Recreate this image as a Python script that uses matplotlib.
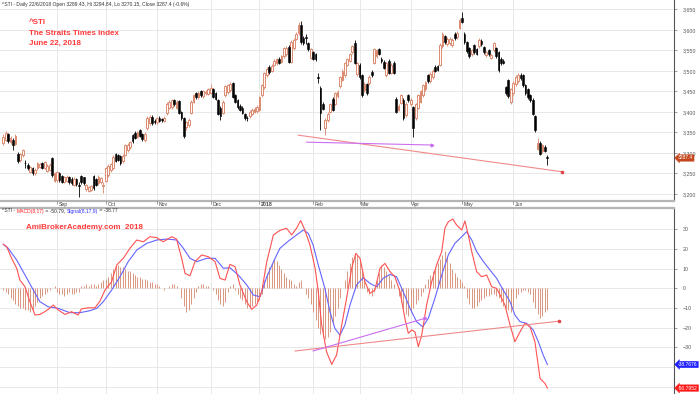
import numpy as np
import matplotlib
matplotlib.use('Agg')
import matplotlib.pyplot as plt
from matplotlib.lines import Line2D
from matplotlib.ticker import FuncFormatter

plt.rcParams['font.family'] = ['Liberation Sans', 'DejaVu Sans']

# ---- data, bar 0 = 1 Aug 2017, last bar = 22 Jun 2018 ----
opens = [3324, 3331, 3345, 3326, 3332, 3322, 3298, 3282, 3294, 3276, 3270, 3254, 3262, 3250, 3262, 3266,
         3276, 3264, 3256, 3258, 3287, 3232, 3234, 3250, 3244, 3229, 3232, 3240, 3237, 3222, 3236, 3222,
         3244, 3240, 3212, 3207, 3210, 3244, 3236, 3226, 3228, 3220, 3232, 3245, 3258, 3263, 3296, 3294,
         3292, 3280, 3295, 3306, 3313, 3343, 3348, 3339, 3355, 3346, 3331, 3360, 3372, 3388, 3378, 3375,
         3386, 3382, 3378, 3396, 3410, 3412, 3428, 3410, 3426, 3400, 3385, 3362, 3368, 3398, 3425, 3446,
         3435, 3451, 3438, 3446, 3444, 3447, 3455, 3445, 3428, 3410, 3398, 3440, 3448, 3452, 3470, 3440,
         3428, 3415, 3410, 3395, 3386, 3390, 3395, 3400, 3402, 3405, 3440, 3460, 3490, 3510, 3500, 3515,
         3518, 3530, 3522, 3535, 3540, 3558, 3522, 3555, 3578, 3592, 3612, 3580, 3582, 3568, 3532, 3545,
         3540, 3485, 3458, 3420, 3360, 3380, 3400, 3432, 3420, 3438, 3462, 3478, 3490, 3515, 3525, 3545,
         3568, 3492, 3515, 3490, 3452, 3468, 3470, 3498, 3520, 3535, 3552, 3530, 3522, 3490, 3525, 3495,
         3520, 3432, 3405, 3422, 3430, 3392, 3440, 3418, 3412, 3385, 3410, 3425, 3440, 3455, 3490, 3475,
         3485, 3510, 3512, 3515, 3560, 3585, 3565, 3568, 3562, 3590, 3582, 3605, 3630, 3590, 3570, 3555,
         3540, 3562, 3552, 3560, 3573, 3558, 3538, 3550, 3532, 3550, 3555, 3545, 3530, 3525, 3460, 3478,
         3425, 3445, 3468, 3475, 3490, 3490, 3465, 3455, 3440, 3430, 3390, 3310, 3325, 3305, 3315, 3289.43]
highs = [3345, 3352, 3348, 3340, 3336, 3346, 3302, 3300, 3310, 3282, 3274, 3268, 3265, 3262, 3278, 3276,
         3278, 3280, 3272, 3274, 3290, 3254, 3256, 3254, 3246, 3243, 3246, 3243, 3240, 3240, 3238, 3230,
         3247, 3242, 3225, 3219, 3222, 3247, 3239, 3245, 3242, 3230, 3265, 3272, 3276, 3294, 3300, 3298,
         3295, 3296, 3321, 3324, 3330, 3347, 3352, 3354, 3358, 3349, 3350, 3389, 3392, 3391, 3382, 3388,
         3389, 3386, 3389, 3424, 3429, 3432, 3431, 3429, 3429, 3403, 3388, 3378, 3384, 3428, 3444, 3449,
         3450, 3454, 3454, 3453, 3459, 3468, 3458, 3448, 3431, 3413, 3428, 3466, 3469, 3472, 3473, 3443,
         3431, 3418, 3413, 3398, 3390, 3404, 3409, 3412, 3416, 3438, 3468, 3498, 3509, 3514, 3516, 3529,
         3532, 3534, 3539, 3559, 3560, 3562, 3574, 3579, 3594, 3618, 3621, 3584, 3590, 3571, 3556, 3549,
         3543, 3495, 3462, 3424, 3384, 3399, 3422, 3435, 3448, 3452, 3488, 3504, 3522, 3532, 3544, 3564,
         3576, 3522, 3518, 3493, 3472, 3471, 3489, 3502, 3556, 3554, 3556, 3534, 3526, 3522, 3528, 3519,
         3523, 3436, 3419, 3444, 3433, 3424, 3443, 3434, 3415, 3422, 3444, 3454, 3469, 3476, 3493, 3497,
         3504, 3513, 3515, 3567, 3594, 3588, 3582, 3582, 3579, 3594, 3596, 3629, 3643, 3594, 3573, 3558,
         3554, 3565, 3556, 3579, 3577, 3561, 3549, 3553, 3542, 3571, 3558, 3548, 3533, 3528, 3464, 3481,
         3459, 3474, 3489, 3494, 3494, 3493, 3468, 3458, 3443, 3433, 3393, 3335, 3328, 3322, 3318, 3294.84]
lows = [3318, 3328, 3324, 3322, 3308, 3318, 3275, 3278, 3290, 3262, 3258, 3250, 3246, 3246, 3258, 3262,
        3260, 3260, 3252, 3255, 3242, 3228, 3230, 3230, 3226, 3226, 3229, 3225, 3222, 3219, 3220, 3192,
        3224, 3222, 3208, 3204, 3206, 3210, 3218, 3222, 3224, 3202, 3228, 3240, 3254, 3260, 3278, 3279,
        3271, 3276, 3292, 3302, 3310, 3324, 3333, 3336, 3338, 3329, 3326, 3356, 3368, 3369, 3370, 3371,
        3374, 3374, 3375, 3392, 3406, 3408, 3414, 3406, 3394, 3380, 3335, 3356, 3364, 3395, 3421, 3432,
        3431, 3436, 3434, 3442, 3440, 3443, 3433, 3428, 3391, 3380, 3394, 3436, 3444, 3448, 3433, 3421,
        3408, 3401, 3394, 3380, 3378, 3386, 3391, 3396, 3398, 3401, 3436, 3456, 3486, 3493, 3496, 3511,
        3514, 3516, 3518, 3531, 3536, 3518, 3518, 3551, 3574, 3588, 3566, 3564, 3565, 3548, 3528, 3526,
        3524, 3470, 3356, 3404, 3343, 3376, 3396, 3401, 3416, 3434, 3458, 3474, 3486, 3511, 3521, 3541,
        3516, 3488, 3481, 3436, 3448, 3441, 3466, 3486, 3516, 3531, 3538, 3520, 3504, 3486, 3491, 3491,
        3491, 3396, 3401, 3418, 3381, 3388, 3424, 3414, 3338, 3380, 3406, 3421, 3436, 3451, 3470, 3471,
        3481, 3496, 3499, 3511, 3556, 3566, 3561, 3564, 3558, 3576, 3578, 3601, 3616, 3566, 3544, 3531,
        3536, 3541, 3538, 3556, 3561, 3541, 3534, 3536, 3528, 3546, 3531, 3498, 3514, 3516, 3441, 3434,
        3418, 3441, 3464, 3471, 3478, 3461, 3441, 3432, 3424, 3391, 3350, 3306, 3294, 3300, 3301, 3270.15]
closes = [3339, 3348, 3330, 3336, 3318, 3342, 3280, 3296, 3306, 3274, 3264, 3265, 3250, 3258, 3275, 3272,
          3263, 3277, 3268, 3270, 3246, 3250, 3252, 3233, 3230, 3240, 3242, 3228, 3226, 3237, 3224, 3220,
          3228, 3226, 3222, 3216, 3218, 3215, 3222, 3242, 3238, 3222, 3262, 3268, 3272, 3290, 3281, 3283,
          3275, 3292, 3318, 3320, 3326, 3328, 3337, 3350, 3342, 3333, 3346, 3385, 3388, 3373, 3376, 3385,
          3378, 3380, 3385, 3420, 3425, 3428, 3418, 3425, 3398, 3385, 3342, 3375, 3381, 3425, 3440, 3436,
          3447, 3440, 3450, 3448, 3455, 3458, 3437, 3432, 3395, 3390, 3425, 3462, 3465, 3468, 3437, 3425,
          3412, 3405, 3398, 3385, 3384, 3400, 3405, 3408, 3412, 3435, 3465, 3495, 3505, 3497, 3512, 3525,
          3528, 3520, 3535, 3555, 3556, 3522, 3570, 3575, 3590, 3612, 3570, 3568, 3580, 3552, 3552, 3530,
          3528, 3482, 3398, 3408, 3380, 3395, 3418, 3405, 3445, 3448, 3485, 3500, 3518, 3528, 3540, 3560,
          3520, 3518, 3485, 3440, 3468, 3445, 3485, 3490, 3552, 3550, 3542, 3525, 3508, 3518, 3495, 3515,
          3495, 3400, 3415, 3440, 3385, 3420, 3428, 3430, 3360, 3418, 3440, 3450, 3465, 3472, 3474, 3493,
          3500, 3500, 3503, 3563, 3590, 3570, 3578, 3578, 3575, 3580, 3592, 3625, 3620, 3570, 3548, 3535,
          3550, 3545, 3542, 3575, 3565, 3545, 3545, 3540, 3538, 3567, 3535, 3502, 3518, 3520, 3445, 3438,
          3455, 3470, 3485, 3490, 3482, 3465, 3445, 3436, 3428, 3395, 3355, 3325, 3298, 3318, 3305, 3287.4]

# MACD(8,17) and Signal(8,17,9), read at points along the lines (bar, value)
macd_bars = [0, 1.4, 3.4, 5.5, 6.8, 8.9, 10.9, 13, 15, 17, 19, 20.5, 22.5, 25.3, 28, 30.7, 32, 34.8, 37.6,
             39.6, 41.7, 44.4, 46.5, 49.2, 51.9, 54.7, 57.4, 60.1, 62.9, 65.6, 69, 71, 73.1, 74.5, 76.5,
             78.6, 81.3, 84, 86.8, 88.8, 90.9, 92.9, 95, 97, 99.8, 101.8, 103.9, 105.9, 108, 110.7, 113.4,
             116.1, 118.2, 120.2, 121.9, 123.6, 125.7, 127.8, 129.1, 130.5, 132.5, 134.6, 136.6, 138.7,
             140.7, 142.8, 144.5, 146.2, 148.2, 150.3, 152.3, 154.4, 156.4, 158.5, 160.5, 162.6, 164.6,
             166, 167.4, 168.7, 170.1, 171.5, 173.5, 175.6, 177.6, 179.7, 181, 182.4, 184.2, 185.8, 187.9,
             189.2, 190.6, 192, 194, 196.1, 198.1, 200.2, 202.2, 203.6, 205.6, 207.7, 209.7, 211.8, 213.8,
             215.9, 217.9, 220, 222, 223]
macd_vals = [22.4, 21.2, 15.3, 10.2, 4.2, 0.8, -6.8, -13.6, -13.3, -11.9, -10.2, -8.5, -11, -13.3, -11.9,
             -13.6, -10.5, -9.9, -9.9, -6.5, -0.9, 3.4, 11.9, 15.3, 20.4, 24.6, 23.7, 26.3, 25.8, 23.7,
             26.3, 25.1, 15.3, 7.6, 6.4, 13.6, 17, 16.1, 13.6, 5.1, 4.2, 12.2, 11, 1.7, -6.8, -10.7, -8.5,
             -1.7, 13.6, 27.2, 29.5, 30.6, 27.2, 30.6, 34.5, 29.7, 22, 10.2, -1.7, -18.7, -32.3, -38.7,
             -34, -18.7, -5.1, 10.2, 17.8, 15.3, 3.4, -2.5, -0.9, 10.2, 12.7, 8.5, 5.9, -1.7, -15.3, -22.9,
             -21.2, -22.1, -29.7, -23.8, -8.5, 3.4, 11.9, 18.7, 30.6, 33.9, 35.3, 32.2, 29.7, 34.3, 27.2,
             18.7, 8.5, 5.9, 6.8, 0.8, 0, -3.4, -8.5, -18.7, -27.2, -22.1, -17.8, -19.6, -27.2, -45.9,
             -48.4, -50.79]
signal_bars = [0, 2, 5.5, 8.9, 12.3, 15, 18.4, 22.5, 27.3, 31.4, 35.5, 38.3, 41, 44.4, 47.8, 51.2, 54.7,
               58.8, 62.9, 67, 71.1, 73.8, 76.5, 79.3, 83.4, 86.8, 90.2, 92.9, 96.3, 99.8, 102.5, 105.2,
               108, 111.4, 113.4, 116.8, 120.2, 123, 125, 127, 129.1, 131.8, 133.9, 135.9, 138, 140,
               142.1, 144.8, 147.5, 150.3, 153, 155.7, 158.5, 161.2, 163.9, 166.7, 169.4, 171.9, 174.2,
               176.9, 179.7, 182.4, 185.1, 187.9, 189.9, 192, 194, 196.8, 199.5, 202.2, 204.9, 207.7,
               209.7, 211.8, 214.5, 217.2, 219.3, 221.3, 223]
signal_vals = [22.4, 20.4, 14.4, 6.8, -0.9, -6.8, -9.4, -10.2, -12.4, -12.4, -11.4, -10.2, -6.8, -0.9, 5.9,
               13.6, 19.5, 22.9, 24.6, 25.1, 24.6, 20.4, 15.3, 13.6, 15.3, 15.3, 10.2, 10.5, 6.8, 1.7,
               -3.4, -4.3, 5.9, 15.3, 20.4, 24, 27.2, 29.7, 28, 22, 11.9, 0, -11.9, -20.4, -23.8, -18.7,
               -8.5, 1.7, 5.4, 2.5, 0.8, 5.1, 7.1, 5.9, -1.7, -10.2, -17, -19.6, -15.3, -5.1, 6.8, 17,
               22.9, 26.3, 28.8, 24.6, 18.7, 13.6, 9.3, 5.1, -0.9, -6.8, -13.6, -17, -17.8, -21.2, -27.2,
               -34, -38.77]
hist = [-1, -2, -3, -5, -6, -8, -9, -10, -10, -11, -11, -12, -11, -9, -7, -5, -4, -3, -2, -1, 0, 1,
        -2, -3, -3, -4, -3, -2, -3, -3, -2, -2, 1, 1, 2, 1, 2, 2, 1, 2, 3, 4, 5, 6, 8, 10, 11, 12, 11, 11,
        10, 9, 9, 8, 7, 6, 6, 5, 5, 4, 3, 3, 2, 2, 1, 0, -1, 0, 1, 2, 2, 1, 0, -5, -9, -12, -11, -8, -5,
        -2, 1, 2, 2, 1, 1, 0, -1, -3, -6, -8, -9, -7, -2, 1, 2, -1, -3, -5, -6, -8, -10, -10, -9, -8, -7,
        -6, -3, 4, 8, 11, 13, 15, 14, 12, 10, 8, 6, 5, 4, 2, 1, 3, 4, 0, -3, -5, -8, -12, -16, -20, -23,
        -25, -26, -25, -22, -18, -14, -10, -5, 0, 4, 9, 13, 16, 18, 17, 14, 9, 4, -2, -3, -4, -2, 4, 8,
        12, 11, 9, 7, 4, 2, 0, -4, -7, -10, -13, -14, -12, -10, -8, -6, -4, -2, 2, 5, 7, 9, 11, 13, 15,
        17, 19, 16, 13, 10, 8, 6, 5, 3, 1, -5, -8, -10, -10, -9, -7, -6, -5, -4, -4, -3, -3, -4, -5, -7,
        -9, -10, -11, -12, -10, -5, -3, -2, -1, -1, -2, -3, -7, -10, -13, -15, -14, -12, -11]

month_bars = [22, 42, 63, 85, 105, 127, 146, 167, 188, 209]
month_labels = ['Sep', 'Oct', 'Nov', 'Dec', '2018', 'Feb', 'Mar', 'Apr', 'May', 'Jun']

# trend lines (bar, value) pairs
price_red = ([120.9, 228.8], [3343, 3254])
price_violet = ([124.3, 175.6], [3326, 3319])
macd_red = ([119.6, 227.9], [-31.9, -16.7])
macd_violet = ([127, 172.8], [-31.9, -15.3])

W, H = 700, 394
fig = plt.figure(figsize=(7, 3.94), dpi=100)
fig.patch.set_facecolor('white')
axw = 674 / W
ax1 = fig.add_axes([0, 1 - 200 / H, axw, 200 / H])
ax2 = fig.add_axes([0, 0, axw, 186 / H])

up_col = '#da8468'
grid_col = '#e8e8e8'
x = np.arange(len(closes))
o = np.array(opens); c = np.array(closes); hi = np.array(highs); lo = np.array(lows)
up = c >= o

for ax in (ax1, ax2):
    ax.set_xlim(-1.35, 274.9)
    for s in ('top', 'left', 'bottom'):
        ax.spines[s].set_visible(False)
    ax.spines['right'].set_color('#555555')
    ax.spines['right'].set_linewidth(0.8)
    ax.yaxis.tick_right()
    ax.tick_params(axis='y', direction='out', length=2, width=0.5, colors='#777777',
                   labelsize=3.8, labelcolor='#555555', pad=4)
    ax.set_xticks([])
    for b in month_bars:
        ax.axvline(b, color=grid_col, lw=0.7, zorder=0)

# price panel
ax1.set_ylim(3184.9, 3672.7)
ax1.set_yticks(np.arange(3200, 3651, 50))
ax1.yaxis.set_major_formatter(FuncFormatter(lambda v, p: '{:,.0f}'.format(v)))
ax1.grid(axis='y', color=grid_col, lw=0.7, zorder=0)
ax1.vlines(x[up], lo[up], hi[up], color=up_col, lw=0.6, zorder=2)
ax1.vlines(x[~up], lo[~up], hi[~up], color='black', lw=0.6, zorder=2)
ax1.bar(x[up], np.maximum(c[up] - o[up], 1.5), bottom=o[up], width=0.72, facecolor='#fffaf8',
        edgecolor=up_col, linewidth=0.65, zorder=3)
ax1.bar(x[~up], np.maximum(o[~up] - c[~up], 1.5), bottom=c[~up], width=0.72, facecolor='black',
        edgecolor='black', linewidth=0.4, zorder=3)
ax1.plot(*price_red, color='#f08a8a', lw=0.8, zorder=4)
ax1.plot(price_red[0][1], price_red[1][1], marker='o', ms=1.6, color='#e04848', zorder=4)
ax1.plot(*price_violet, color='#cc6ef0', lw=0.8, zorder=4)
ax1.plot(price_violet[0][1], price_violet[1][1], marker='>', ms=2, color='#cc6ef0', zorder=4)

# MACD panel
ax2.set_ylim(-53.8, 40.9)
ax2.set_yticks(np.arange(-30, 31, 10))
for v in np.arange(-50, 31, 10):
    ax2.axhline(v, color=grid_col, lw=0.7, zorder=0)
ax2.vlines(x, 0, hist, color='#d9967e', lw=0.7, zorder=2)
ax2.plot(signal_bars, signal_vals, color='#6464ff', lw=0.8, zorder=3)
ax2.plot(macd_bars, macd_vals, color='#ff5252', lw=0.8, zorder=4)
ax2.plot(*macd_red, color='#f08a8a', lw=0.8, zorder=4)
ax2.plot(macd_red[0][1], macd_red[1][1], marker='o', ms=1.6, color='#e04848', zorder=4)
ax2.plot(*macd_violet, color='#cc6ef0', lw=0.8, zorder=4)
ax2.plot(macd_violet[0][1], macd_violet[1][1], marker='>', ms=2, color='#cc6ef0', zorder=4)

# value tags on the right axis
def tag(ax, val, txt, col):
    ax.text(1.006, val, txt, transform=ax.get_yaxis_transform(), fontsize=3.6, color='white',
            va='center', ha='left', clip_on=False, zorder=10,
            bbox=dict(boxstyle='larrow,pad=0.15', fc=col, ec=col, lw=0.3))

tag(ax1, closes[-1], '3287.4', '#c4461c')
tag(ax2, signal_vals[-1], '-38.7676', '#2222ff')
tag(ax2, macd_vals[-1], '-50.7952', '#ff1a1a')

# panel separators and date strip
for yy in (200.5, 207.5):
    fig.add_artist(Line2D([0, axw], [1 - yy / H, 1 - yy / H], color='#b4b4b4', lw=1.6))
for b, lab in zip(month_bars, month_labels):
    xf = (b + 1.35) / (274.9 + 1.35) * axw
    fig.add_artist(Line2D([xf, xf], [1 - 201.5 / H, 1 - 204 / H], color='#666666', lw=0.4))
    fig.text(xf + 1.5 / W, 1 - 204.3 / H, lab, fontsize=3.7, color='#444444', va='center',
             fontweight='bold' if lab == '2018' else 'normal')

# header texts
fig.text(2 / W, 1 - 4.5 / H,
         '^STI - Daily 22/6/2018 Open 3289.43, Hi 3294.84, Lo 3270.15, Close 3287.4 (-0.6%)',
         fontsize=3.6, color='#333333', va='center')
red = '#ff3b3b'
for yy, s in ((23, '^STI'), (33.5, 'The Straits Times Index'), (43, 'June 22, 2018')):
    fig.text(29 / W, 1 - yy / H, s, fontsize=5.8, color=red, fontweight='bold', va='center')
fig.text(26 / W, 1 - 227.5 / H, 'AmiBrokerAcademy.com  2018', fontsize=5.8, color=red,
         fontweight='bold', va='center')

renderer = fig.canvas.get_renderer()
xp = 2 / W
for s, col in (('^STI - ', '#333333'), ('MACD(8,17)', '#ff2020'), (' = -50.79, ', '#333333'),
               ('Signal(8,17,9)', '#3030ff'), (' = -38.77', '#333333')):
    t = fig.text(xp, 1 - 211 / H, s, fontsize=3.6, color=col, va='center')
    xp += t.get_window_extent(renderer=renderer).width / fig.bbox.width

fig.savefig('out.png', dpi=100, facecolor='white')
